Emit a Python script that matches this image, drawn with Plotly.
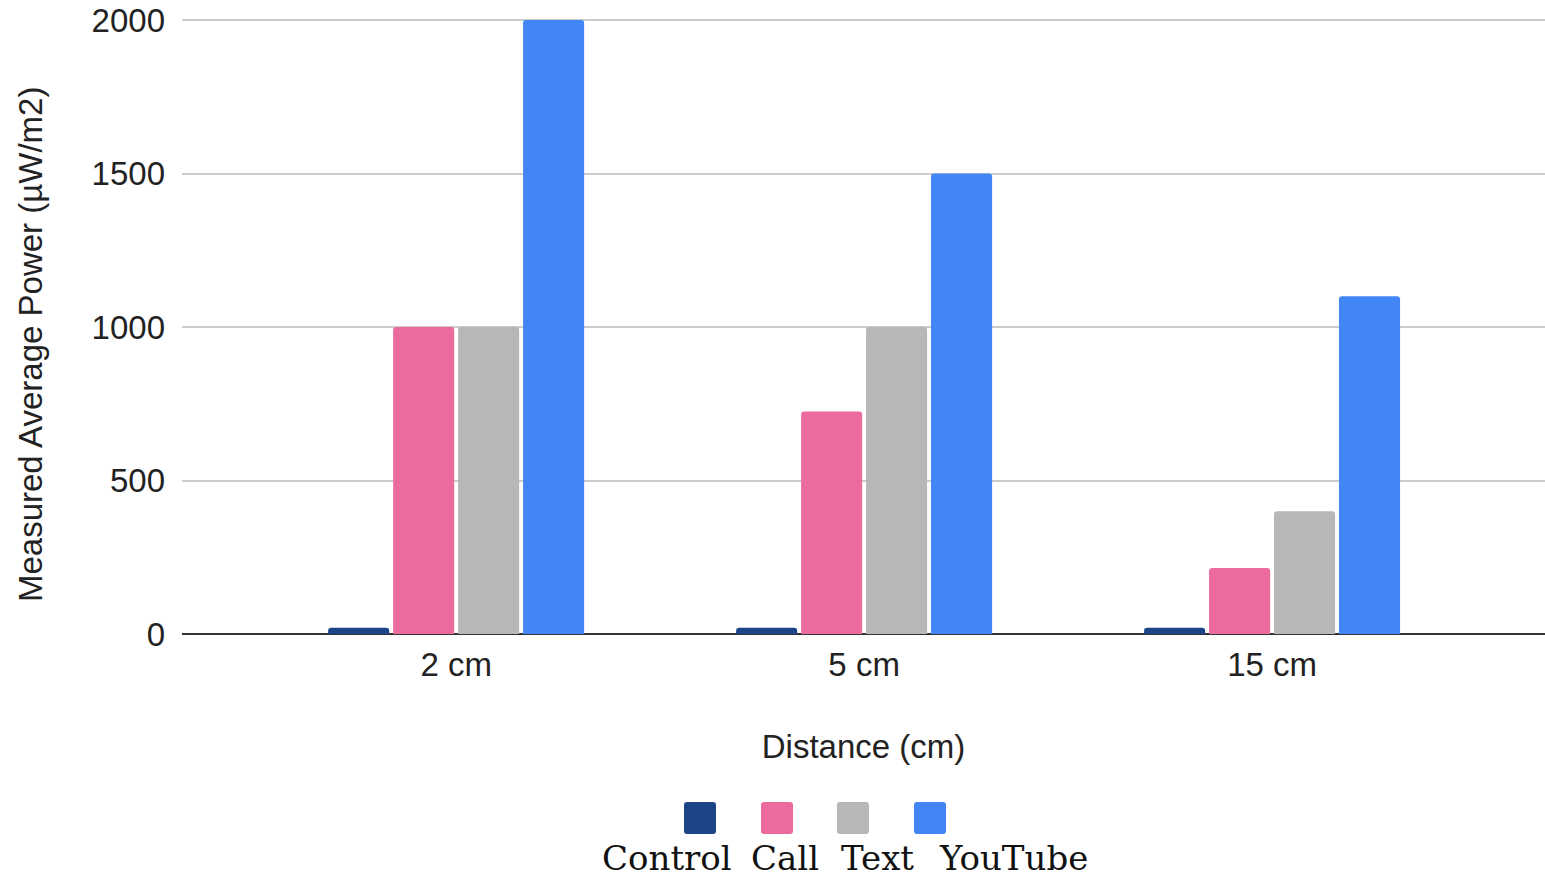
import plotly.graph_objects as go

distances = ["2 cm", "5 cm", "15 cm"]
series_names = ["Control", "Call", "Text", "YouTube"]
control = [20, 20, 20]
call = [1000, 725, 215]
text = [1000, 1000, 400]
youtube = [2000, 1500, 1100]
y_ticks = [0, 500, 1000, 1500, 2000]

colors = ["#1c4587", "#ec6b9e", "#b7b7b7", "#4285f4"]
values = [control, call, text, youtube]

fig = go.Figure()
for name, vals, col in zip(series_names, values, colors):
    fig.add_trace(go.Bar(x=list(range(len(distances))), y=vals, name=name,
                         marker=dict(color=col, line=dict(width=0))))

OFF = 0  # page body margin removed via post_script
W, H = 1545 - OFF, 878 - OFF
YMAX = 2010
px_per_unit = (634 - 20) / 2000.0
top_px = 634 - YMAX * px_per_unit
L, R, T, B = 182 - OFF, 0, top_px - OFF, 878 - 634
pw = W - L - R
ph = H - T - B

fig.update_layout(
    width=W, height=H,
    margin=dict(l=L, r=R, t=T, b=B),
    paper_bgcolor="white", plot_bgcolor="white",
    barmode="group", bargap=0.363, bargroupgap=0.06,
    barcornerradius=3,
    showlegend=False,
    font=dict(family="Liberation Sans, Arial", size=33, color="#222"),
    xaxis=dict(
        tickmode="array", tickvals=list(range(len(distances))), ticktext=distances,
        range=[-0.672, 2.669], showgrid=False, zeroline=False, showline=False,
        ticks="", tickfont=dict(size=33, color="#222"), ticklabelstandoff=8,
        title=dict(text="Distance (cm)", font=dict(size=33, color="#222"), standoff=52),
        automargin=False,
    ),
    yaxis=dict(
        range=[0, YMAX], tickvals=y_ticks, showgrid=True, gridcolor="#cccccc", gridwidth=2,
        zeroline=True, zerolinecolor="#333333", zerolinewidth=2, showline=False,
        ticks="", tickfont=dict(size=33, color="#222"), ticklabelstandoff=16,
        ticklabeloverflow="allow", automargin=False,
    ),
)


def px_to_paper_x(px):
    return (px - OFF - L) / pw


def px_to_paper_y(py):
    return (H - B - (py - OFF)) / ph


# y axis title as rotated annotation
fig.add_annotation(x=px_to_paper_x(30), y=px_to_paper_y(345), xref="paper", yref="paper",
                   text="Measured Average Power (µW/m2)", textangle=-90, showarrow=False,
                   xanchor="center", yanchor="middle",
                   font=dict(family="Liberation Sans, Arial", size=33, color="#222"))

# custom legend: rounded squares above, labels below
sq_centers = [700, 777, 853, 930]
lab_centers = [667, 785, 877, 1013]
sq = 32
rad = 3
for i, (name, col) in enumerate(zip(series_names, colors)):
    cx = sq_centers[i]
    x0, x1 = px_to_paper_x(cx - sq / 2), px_to_paper_x(cx + sq / 2)
    y0, y1 = px_to_paper_y(834), px_to_paper_y(802)
    rx, ry = rad / pw, rad / ph
    path = (f"M {x0+rx},{y0} L {x1-rx},{y0} Q {x1},{y0} {x1},{y0+ry} "
            f"L {x1},{y1-ry} Q {x1},{y1} {x1-rx},{y1} L {x0+rx},{y1} "
            f"Q {x0},{y1} {x0},{y1-ry} L {x0},{y0+ry} Q {x0},{y0} {x0+rx},{y0} Z")
    fig.add_shape(type="path", xref="paper", yref="paper", path=path,
                  fillcolor=col, line=dict(width=0), layer="above")
    fig.add_annotation(x=px_to_paper_x(lab_centers[i]), y=px_to_paper_y(858),
                       xref="paper", yref="paper", text=name, showarrow=False,
                       xanchor="center", yanchor="middle",
                       font=dict(family="DejaVu Serif", size=34, color="#111"))

fig.write_html("out.html", config={"displayModeBar": False},
               post_script="document.body.style.margin='0';document.body.style.overflow='hidden';")
